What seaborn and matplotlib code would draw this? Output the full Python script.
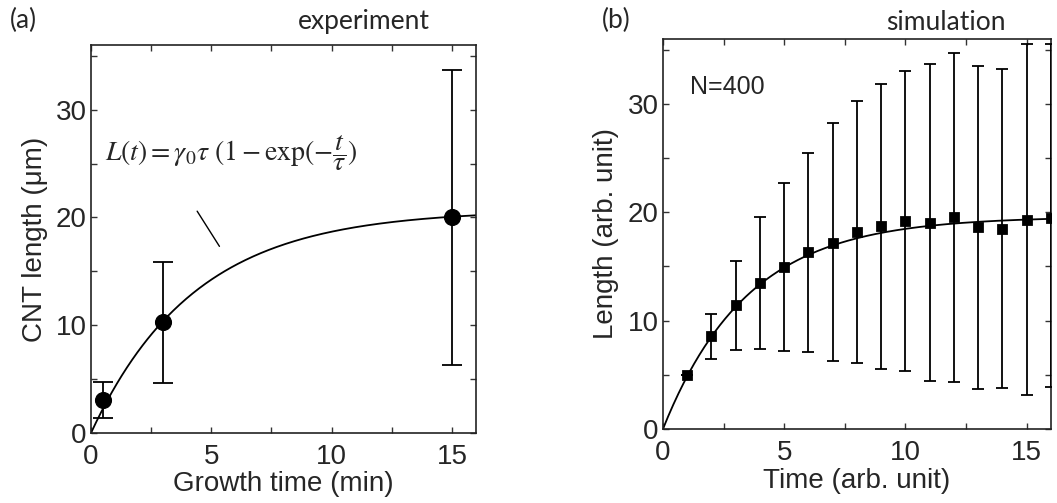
import numpy as np
import pandas as pd
import matplotlib
matplotlib.use("Agg")
import matplotlib.pyplot as plt
import seaborn as sns
from matplotlib.ticker import MultipleLocator

# ---------------- data ----------------
# (a) experiment
exp_time = [0.5, 3.0, 15.0]
exp_len = [3.1, 10.3, 20.0]
exp_err_low = [1.35, 4.6, 6.3]
exp_err_high = [4.7, 15.9, 33.7]
exp_gamma0_tau = 20.7   # fit amplitude
exp_tau = 4.3           # fit time constant

# (b) simulation
sim_time = [1, 2, 3, 4, 5, 6, 7, 8, 9, 10, 11, 12, 13, 14, 15, 16]
sim_len = [4.95, 8.6, 11.45, 13.45, 14.95, 16.3, 17.2, 18.15, 18.75, 19.2,
           19.05, 19.55, 18.65, 18.45, 19.25, 19.5]
sim_err_low = [4.95, 6.45, 7.3, 7.35, 7.2, 7.1, 6.25, 6.1, 5.5, 5.4,
               4.45, 4.35, 3.7, 3.75, 3.1, 3.85]
sim_err_high = [4.95, 10.65, 15.5, 19.6, 22.7, 25.5, 28.25, 30.3, 31.85, 33.0,
                33.7, 34.75, 33.55, 33.2, 35.5, 35.5]
sim_gamma0_tau = 19.6
sim_tau = 3.5

x_ticks = [0, 5, 10, 15]
y_ticks = [0, 10, 20, 30]

# ---------------- style ----------------
sns.set_theme(style="ticks")
plt.rcParams["font.family"] = ["Liberation Sans", "DejaVu Sans"]
plt.rcParams["mathtext.fontset"] = "stix"

fig = plt.figure(figsize=(10.57, 5.03), dpi=100)
ax1 = fig.add_axes([0.0861, 0.1392, 0.3642, 0.7713])
ax2 = fig.add_axes([0.6272, 0.1471, 0.3671, 0.7754])

def style_axis(ax):
    ax.set_xlim(0, 16)
    ax.set_ylim(0, 36)
    ax.set_xticks(x_ticks)
    ax.set_yticks(y_ticks)
    ax.xaxis.set_minor_locator(MultipleLocator(2.5))
    ax.yaxis.set_minor_locator(MultipleLocator(5))
    ax.tick_params(which="both", direction="in", top=True, right=True,
                   length=4.5, width=1.0, color="#333333")
    ax.tick_params(which="major", labelsize=20, pad=3)
    ax.tick_params(axis="x", which="major", pad=8)
    for s in ax.spines.values():
        s.set_linewidth(1.2)
        s.set_color("#222222")

# ---------- panel (a) ----------
t_fit_a = np.linspace(0, 16, 300)
df_fit_a = pd.DataFrame({"t": t_fit_a,
                         "L": exp_gamma0_tau * (1 - np.exp(-t_fit_a / exp_tau))})
sns.lineplot(data=df_fit_a, x="t", y="L", ax=ax1, color="black", lw=1.3)
ea = np.array(exp_len)
ax1.errorbar(exp_time, exp_len,
             yerr=[ea - np.array(exp_err_low), np.array(exp_err_high) - ea],
             fmt="none", ecolor="black", elinewidth=1.3, capsize=7, capthick=1.3,
             zorder=3)
df_a = pd.DataFrame({"t": exp_time, "L": exp_len})
sns.scatterplot(data=df_a, x="t", y="L", ax=ax1, color="black", s=130,
                marker="o", edgecolor="black", zorder=4)
style_axis(ax1)
ax1.set_xlabel("Growth time (min)", fontsize=20, labelpad=1)
ax1.set_ylabel("CNT length (μm)", fontsize=20, labelpad=6)
ax1.text(0.6, 26.0, r"$L(t) = \gamma_0\tau\ (1 - \mathrm{exp}(-\dfrac{t}{\tau})$",
         fontsize=20, ha="left", va="center")
ax1.annotate("", xy=(5.4, 17.1), xytext=(4.35, 20.8),
             arrowprops=dict(arrowstyle="-", color="black", lw=1.0))

# ---------- panel (b) ----------
t_fit_b = np.linspace(0, 16, 300)
df_fit_b = pd.DataFrame({"t": t_fit_b,
                         "L": sim_gamma0_tau * (1 - np.exp(-t_fit_b / sim_tau))})
sns.lineplot(data=df_fit_b, x="t", y="L", ax=ax2, color="black", lw=1.3)
sa = np.array(sim_len)
ax2.errorbar(sim_time, sim_len,
             yerr=[sa - np.array(sim_err_low), np.array(sim_err_high) - sa],
             fmt="none", ecolor="black", elinewidth=1.3, capsize=4.5, capthick=1.3,
             zorder=3)
df_b = pd.DataFrame({"t": sim_time, "L": sim_len})
sns.scatterplot(data=df_b, x="t", y="L", ax=ax2, color="black", s=50,
                marker="s", edgecolor="black", zorder=4)
style_axis(ax2)
ax2.set_xlabel("Time (arb. unit)", fontsize=20, labelpad=1)
ax2.set_ylabel("Length (arb. unit)", fontsize=20, labelpad=6)
ax2.text(1.1, 31.6, "N=400", fontsize=18, ha="left", va="center")

# ---------- panel labels ----------
lab_font = ["Lato", "DejaVu Sans"]
fig.text(10 / 1057, 1 - 20 / 503, "(a)", fontsize=19, family=lab_font,
         ha="left", va="center")
fig.text(364 / 1057, 1 - 22 / 503, "experiment", fontsize=19, family=lab_font,
         ha="center", va="center")
fig.text(602 / 1057, 1 - 20 / 503, "(b)", fontsize=19, family=lab_font,
         ha="left", va="center")
fig.text(946 / 1057, 1 - 23 / 503, "simulation", fontsize=19, family=lab_font,
         ha="center", va="center")

fig.savefig("out.png", dpi=100)
